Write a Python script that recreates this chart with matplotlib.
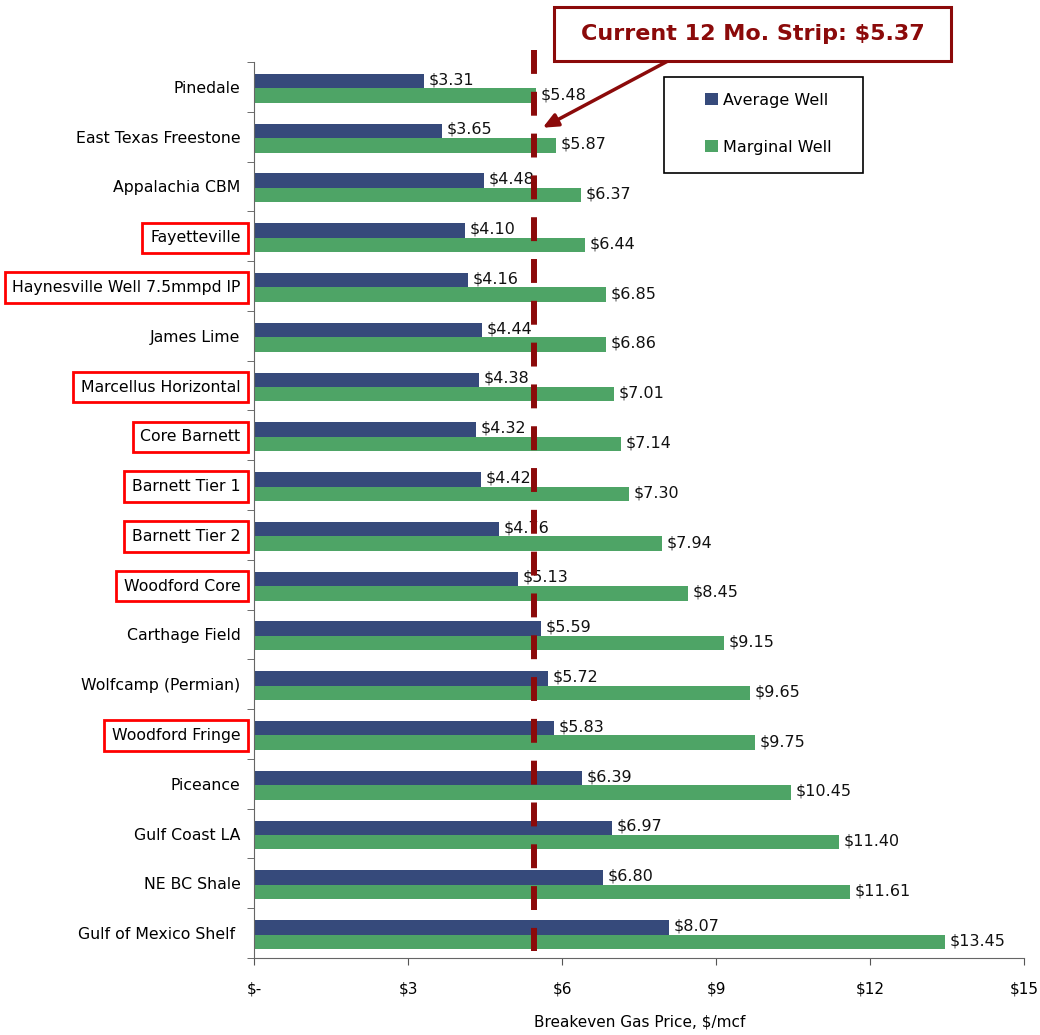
import numpy as np
import matplotlib
matplotlib.use("Agg")
import matplotlib.pyplot as plt
from matplotlib.patches import Rectangle, Patch

# Data
regions = ["Pinedale", "East Texas Freestone", "Appalachia CBM", "Fayetteville",
           "Haynesville Well 7.5mmpd IP", "James Lime", "Marcellus Horizontal",
           "Core Barnett", "Barnett Tier 1", "Barnett Tier 2", "Woodford Core",
           "Carthage Field", "Wolfcamp (Permian)", "Woodford Fringe", "Piceance",
           "Gulf Coast LA", "NE BC Shale", "Gulf of Mexico Shelf "]
average_well = [3.31, 3.65, 4.48, 4.10, 4.16, 4.44, 4.38, 4.32, 4.42, 4.76,
                5.13, 5.59, 5.72, 5.83, 6.39, 6.97, 6.80, 8.07]
marginal_well = [5.48, 5.87, 6.37, 6.44, 6.85, 6.86, 7.01, 7.14, 7.30, 7.94,
                 8.45, 9.15, 9.65, 9.75, 10.45, 11.40, 11.61, 13.45]
highlighted = ["Fayetteville", "Haynesville Well 7.5mmpd IP", "Marcellus Horizontal",
               "Core Barnett", "Barnett Tier 1", "Barnett Tier 2", "Woodford Core",
               "Woodford Fringe"]
strip_price = 5.37
strip_line_x = 5.45   # where the dashed line sits in the picture
xticks = [0, 3, 6, 9, 12, 15]
xtick_labels = ["$-", "$3", "$6", "$9", "$12", "$15"]

blue = "#364a7b"
green = "#4ea466"
dark_red = "#8b0a0a"

plt.rcParams["font.family"] = ["DejaVu Sans"]

fig = plt.figure(figsize=(10.4, 10.35), dpi=100)
ax = fig.add_axes([0.2447, 0.0744, 0.7401, 0.8657])

y = np.arange(len(regions))
h = 0.29
off = 0.03
ax.barh(y - h / 2 + off, average_well, height=h, color=blue, label="Average Well")
ax.barh(y + h / 2 + off, marginal_well, height=h, color=green, label="Marginal Well")

for yi, a, m in zip(y, average_well, marginal_well):
    ax.text(a + 0.09, yi - h / 2 + off - 0.03, f"${a:.2f}", va="center", ha="left",
            fontsize=11.5, color="#111111")
    ax.text(m + 0.09, yi + h / 2 + off - 0.02, f"${m:.2f}", va="center", ha="left",
            fontsize=11.5, color="#111111")

ax.set_xlim(0, 15)
ax.set_ylim(len(regions) - 0.5, -0.5)
ax.set_xticks(xticks)
ax.set_xticklabels(xtick_labels, fontsize=11)
ax.set_yticks(y)
ax.set_yticklabels(regions, fontsize=11.3)
ax.set_yticks(np.arange(len(regions) + 1) - 0.5, minor=True)
ax.tick_params(axis="y", which="major", length=0, pad=10)
ax.tick_params(axis="y", which="minor", length=5, direction="out", color="#555555")
ax.tick_params(axis="x", length=5, direction="out", pad=12, color="#555555")
ax.set_xlabel("Breakeven Gas Price, $/mcf", fontsize=11, labelpad=13)

for s in ["top", "right"]:
    ax.spines[s].set_visible(False)
for s in ["left", "bottom"]:
    ax.spines[s].set_color("#666666")

for lab in ax.get_yticklabels():
    if lab.get_text() in highlighted:
        lab.set_bbox(dict(facecolor="none", edgecolor="red", linewidth=2, pad=5.5))

# dashed strip price line
ax.plot([strip_line_x, strip_line_x], [-0.74, 17.36], color=dark_red, lw=4.3,
        dashes=(4, 3), solid_capstyle="butt", dash_capstyle="butt",
        clip_on=False, zorder=5)

# callout box with arrow
fig.patches.append(Rectangle((0.5327, 0.9411), 0.3817, 0.0522, transform=fig.transFigure,
                             facecolor="white", edgecolor=dark_red, linewidth=2.2))
fig.text(0.7236, 0.9671, f"Current 12 Mo. Strip: ${strip_price:.2f}", ha="center",
         va="center", fontsize=16, fontweight="bold", color=dark_red)
ax.annotate("", xy=(0.5218, 0.8766), xycoords="figure fraction",
            xytext=(0.6423, 0.9411), textcoords="figure fraction",
            arrowprops=dict(arrowstyle="-|>,head_length=0.9,head_width=0.4",
                            color=dark_red, lw=2.5, shrinkA=0, shrinkB=0))

# legend with a separate square frame
fig.patches.append(Rectangle((0.6385, 0.8329), 0.1913, 0.0928, transform=fig.transFigure,
                             facecolor="white", edgecolor="black", linewidth=1.2))
handles = [Patch(facecolor=blue), Patch(facecolor=green)]
fig.legend(handles, ["Average Well", "Marginal Well"], loc="upper left",
           bbox_to_anchor=(0.678, 0.9105), frameon=False, fontsize=11.5,
           labelspacing=2.0, handlelength=0.8, handleheight=0.8,
           handletextpad=0.35, borderpad=0, borderaxespad=0)

fig.savefig("out.png", dpi=100)
